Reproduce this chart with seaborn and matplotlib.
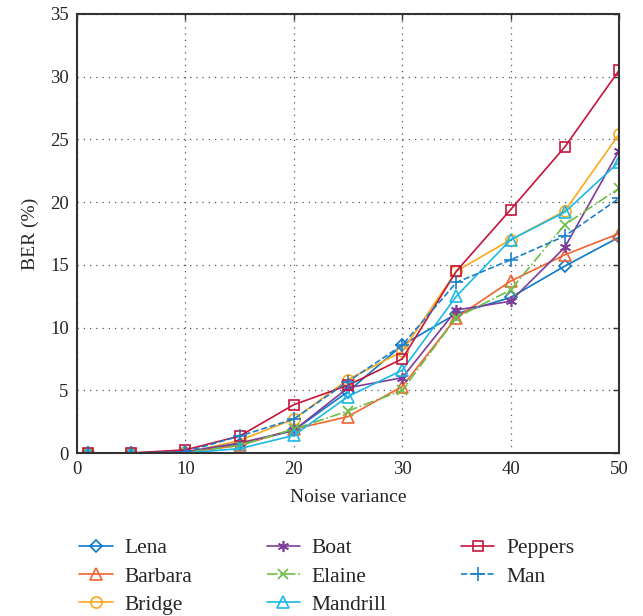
import matplotlib
matplotlib.use("Agg")
import matplotlib.pyplot as plt
import seaborn as sns
import pandas as pd

noise = [1, 5, 10, 15, 20, 25, 30, 35, 40, 45, 50]
lena     = [0, 0, 0.05, 0.7, 1.8, 4.9, 8.6, 11.1, 12.4, 14.9, 17.2]
barbara  = [0, 0, 0.05, 0.6, 1.9, 2.9, 5.3, 10.8, 13.7, 15.8, 17.5]
bridge   = [0, 0, 0.0, 1.0, 2.7, 5.85, 8.1, 14.5, 17.0, 19.3, 25.4]
boat     = [0, 0, 0.1, 0.8, 1.8, 5.2, 6.0, 11.4, 12.1, 16.4, 24.1]
elaine   = [0, 0, 0.05, 0.6, 1.9, 3.35, 5.0, 10.8, 13.0, 18.2, 21.1]
mandrill = [0, 0, 0.0, 0.35, 1.4, 4.5, 6.6, 12.5, 17.0, 19.2, 23.2]
peppers  = [0, 0, 0.25, 1.35, 3.85, 5.4, 7.5, 14.5, 19.4, 24.4, 30.5]
man      = [0, 0, 0.1, 1.35, 2.7, 5.7, 8.6, 13.6, 15.4, 17.3, 20.3]

names = ["Lena", "Barbara", "Bridge", "Boat", "Elaine", "Mandrill", "Peppers", "Man"]
series = [lena, barbara, bridge, boat, elaine, mandrill, peppers, man]
colors = ["#0A7BC8", "#F26430", "#FAA91C", "#7E3D98", "#6DBE45", "#1CB9E6", "#C8143C", "#1B80C9"]
markers = ["D", "^", "o", (6, 2, 0), "x", "^", "s", "+"]
styles = ["-", "-", "-", "-", "-.", "-", "-", "--"]
msizes = [6, 9, 8, 8, 7, 9, 7, 10]

sns.set_theme(style="white")
plt.rcParams["font.family"] = ["Liberation Serif", "DejaVu Serif"]

fig = plt.figure(figsize=(6.43, 6.16), dpi=100)
ax = fig.add_axes([77/643, 1 - 453/616, (619-77)/643, (453-14)/616])

for name, vals, c, m, ls, ms in zip(names, series, colors, markers, styles, msizes):
    df = pd.DataFrame({"x": noise, "y": vals})
    sns.lineplot(data=df, x="x", y="y", ax=ax, color=c, marker=m, linestyle=ls,
                 markersize=ms, markerfacecolor="none",
                 markeredgecolor=c, markeredgewidth=1.2, linewidth=1.2, label=name)

ax.set_xlim(0, 50)
ax.set_ylim(0, 35)
ax.set_xticks(range(0, 51, 10))
ax.set_yticks(range(0, 36, 5))
ax.grid(True, linestyle=(0, (1, 4)), color="#555555", linewidth=0.9)
ax.tick_params(direction="in", top=True, right=True, length=4, width=1,
               labelsize=13.5, color="#333333", pad=6)
for s in ax.spines.values():
    s.set_color("#333333")
    s.set_linewidth(1.5)
ax.set_xlabel("Noise variance", fontsize=14, labelpad=8)
ax.set_ylabel("BER (%)", fontsize=14, labelpad=8)

handles, labels = ax.get_legend_handles_labels()
ax.get_legend().remove()
fig.legend(handles, labels, loc="upper left", bbox_to_anchor=(60/643, 1 - 519/616),
           ncol=3, frameon=False, fontsize=15.5, handlelength=1.55, handletextpad=0.55,
           columnspacing=3.45, labelspacing=0.38)

fig.savefig("out.png", dpi=100)
